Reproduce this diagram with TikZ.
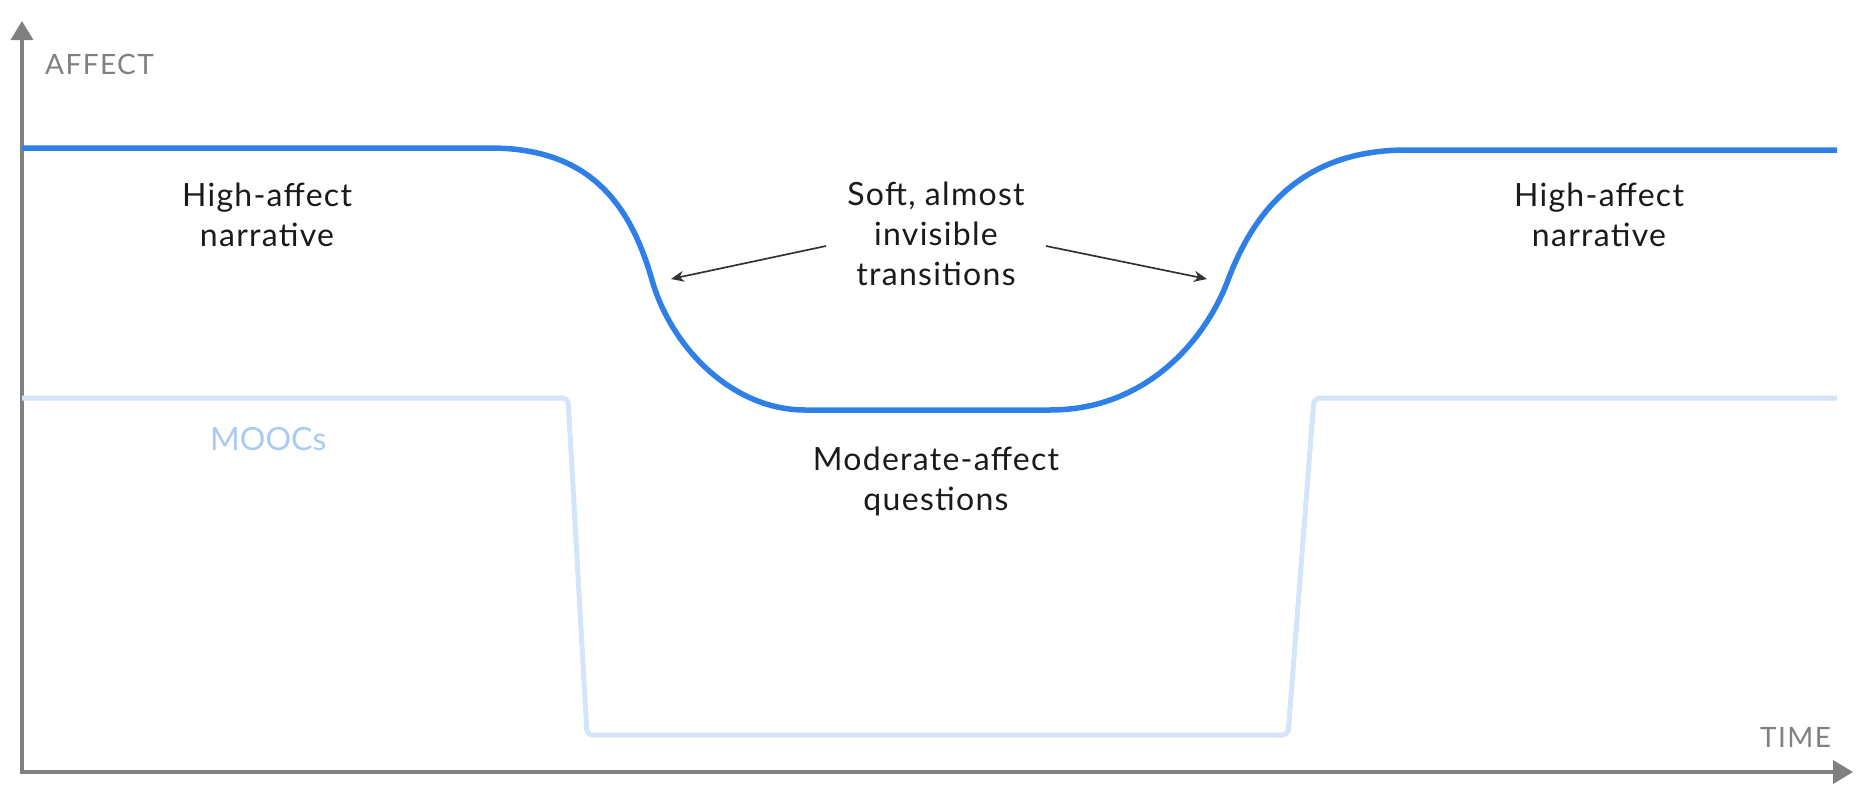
\documentclass[tikz,border=0pt]{standalone}
\usepackage{fontspec}
\setmainfont{Lato}
\usetikzlibrary{arrows.meta}
\definecolor{axisgray}{HTML}{808080}
\definecolor{mainblue}{HTML}{2F7FE8}
\definecolor{moocblue}{HTML}{D4E5FA}
\definecolor{mooctext}{HTML}{A8CBF5}
\definecolor{ink}{HTML}{1A1A1A}
\definecolor{pointer}{HTML}{333333}
\tikzset{
  axisline/.style={draw=axisgray, line width=3.5pt},
  curveline/.style={draw=mainblue, line width=5.5pt},
  moocline/.style={draw=moocblue, line width=5pt, rounded corners=6pt},
  pointerarrow/.style={draw=pointer, line width=1.7pt, -{Stealth[length=13pt,width=11pt]}},
  label/.style={font=\fontsize{32}{40}\selectfont\addfontfeatures{LetterSpace=4}, text=ink, align=center, inner sep=0pt, anchor=base},
  axislabel/.style={font=\fontsize{28}{34}\selectfont\addfontfeatures{LetterSpace=5}, text=axisgray, inner sep=0pt},
}
\begin{document}
\begin{tikzpicture}[x=1pt,y=-1pt]
\useasboundingbox (0,0) rectangle (1870,790);
% axes
\coordinate (ytip) at (22,21);
\coordinate (origin) at (22,772);
\coordinate (xtip) at (1853,772);
\draw[axisline, {Triangle[length=19pt,width=22pt]}-{Triangle[length=20pt,width=23pt]}] (ytip) -- (origin) -- (xtip);
\node[axislabel, anchor=base west] (affect) at (45,74) {AFFECT};
\node[axislabel, anchor=base west] (time) at (1760,747) {TIME};
% MOOCs line
\coordinate (m0) at (22,398);
\coordinate (m1) at (568,398);
\coordinate (m2) at (587,735);
\coordinate (m3) at (1288,735);
\coordinate (m4) at (1314,398);
\coordinate (m5) at (1837,398);
\draw[moocline] (m0) -- (m1) -- (m2) -- (m3) -- (m4) -- (m5);
\node[font=\fontsize{32}{40}\selectfont, text=mooctext, inner sep=0pt, anchor=base west] (moocs) at (210,450) {MOOCs};
% main curve
\coordinate (c0) at (22,148);
\coordinate (c1) at (490,148);
\coordinate (cinfl) at (652,280);
\coordinate (c2) at (805,410);
\coordinate (c3) at (1050,410);
\coordinate (cinfr) at (1228,280);
\coordinate (c4) at (1407,150);
\coordinate (c5) at (1837,150);
\draw[curveline] (c0) -- (c1) .. controls (589,148) and (630,203) .. (cinfl)
  .. controls (671,347) and (732,410) .. (c2) -- (c3)
  .. controls (1147,410) and (1206,339) .. (cinfr)
  .. controls (1261,192) and (1319,150) .. (c4) -- (c5);
% labels
\node[label] (hl) at (267,246) {High-affect\\narrative};
\node[label] (hr) at (1599,246) {High-affect\\narrative};
\node[label] (soft) at (936,285) {Soft, almost\\invisible\\transitions};
\node[label] (mod) at (936,510) {Moderate-affect\\questions};
% pointers
\coordinate (pl) at (826,246);
\coordinate (tl) at (671,279);
\coordinate (pr) at (1046,246);
\coordinate (tr) at (1207,279);
\draw[pointerarrow] (pl) -- (tl);
\draw[pointerarrow] (pr) -- (tr);
\end{tikzpicture}
\end{document}
